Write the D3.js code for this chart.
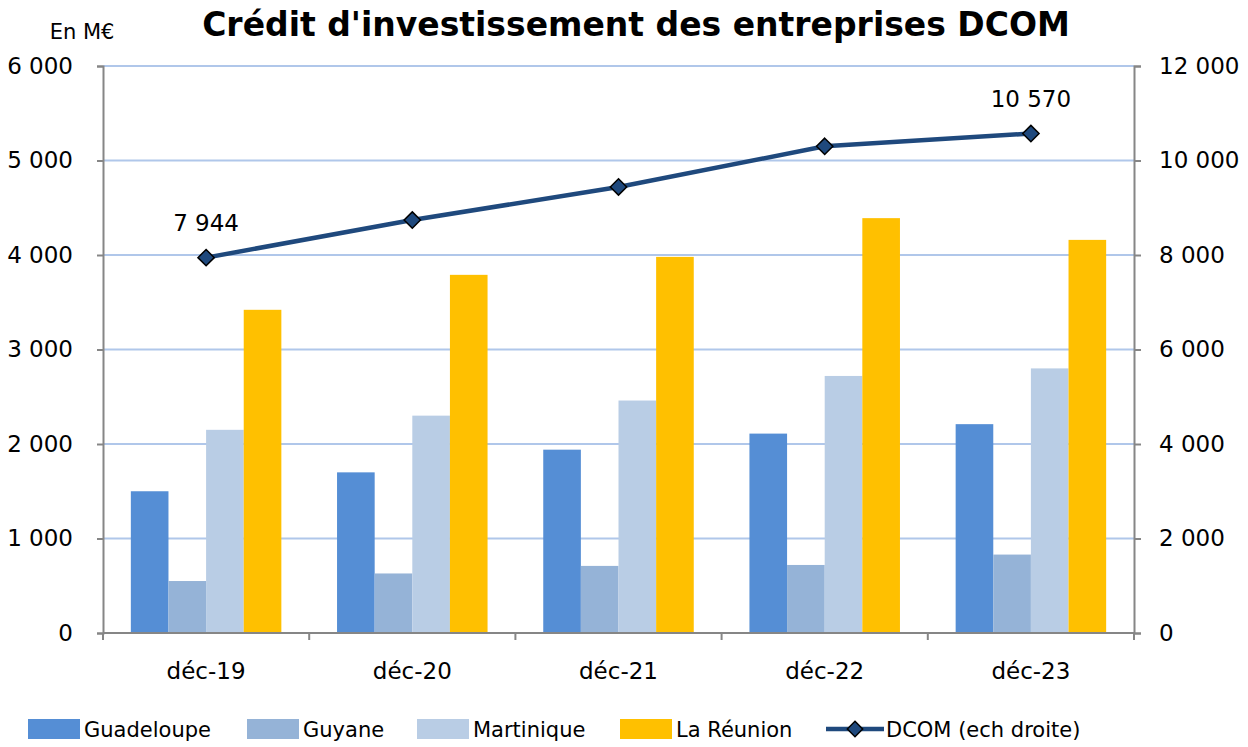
<!DOCTYPE html>
<html>
<head>
<script src="https://cdn.jsdelivr.net/npm/d3@7"></script>
<style>
  body { margin: 0; background: #fff; }
  text { font-family: "DejaVu Sans", Verdana, sans-serif; fill: #000; }
</style>
</head>
<body>
<div id="chart"></div>
<script>
var categories = ["déc-19", "déc-20", "déc-21", "déc-22", "déc-23"];
var series = ["Guadeloupe", "Guyane", "Martinique", "La Réunion"];
var guadeloupe = [1500, 1700, 1940, 2110, 2210];
var guyane = [550, 630, 710, 720, 830];
var martinique = [2150, 2300, 2460, 2720, 2800];
var reunion = [3420, 3790, 3980, 4390, 4160];
var dcom = [7944, 8740, 9440, 10300, 10570];
var leftTicks = [0, 1000, 2000, 3000, 4000, 5000, 6000];
var rightTicks = [0, 2000, 4000, 6000, 8000, 10000, 12000];
var colors = ["#558ed5", "#95b3d7", "#b9cde5", "#ffc000"];
var lineColor = "#1f497d";

var values = [guadeloupe, guyane, martinique, reunion];
var W = 1248, H = 747;
var pLeft = 103, pRight = 1134, pTop = 66, pBottom = 633;

var svg = d3.select("#chart").append("svg")
    .attr("width", W).attr("height", H);

var x = d3.scaleBand().domain(categories).range([pLeft, pRight]);
var xs = d3.scaleBand().domain(series).range([0, x.bandwidth()]).paddingOuter(0.74);
var yL = d3.scaleLinear().domain([0, 6000]).range([pBottom, pTop]);
var yR = d3.scaleLinear().domain([0, 12000]).range([pBottom, pTop]);
var fmt = function(v) { return d3.format(",")(v).replace(/,/g, " "); };

// gridlines
svg.append("g").selectAll("line")
    .data(leftTicks.slice(1))
    .enter().append("line")
    .attr("x1", pLeft).attr("x2", pRight)
    .attr("y1", function(d) { return yL(d); })
    .attr("y2", function(d) { return yL(d); })
    .attr("stroke", "#b0c7ea")
    .attr("stroke-width", 2);

// bars
series.forEach(function(s, i) {
    svg.append("g").selectAll("rect")
        .data(values[i])
        .enter().append("rect")
        .attr("x", function(d, j) { return x(categories[j]) + xs(s); })
        .attr("width", xs.bandwidth())
        .attr("y", function(d) { return yL(d); })
        .attr("height", function(d) { return pBottom - yL(d); })
        .attr("fill", colors[i]);
});

// axes
var axisColor = "#868686";
var gl = svg.append("g").attr("transform", "translate(" + pLeft + ",0)")
    .call(d3.axisLeft(yL).tickValues(leftTicks).tickFormat(fmt).tickSize(6).tickPadding(24));
var gr = svg.append("g").attr("transform", "translate(" + pRight + ",0)")
    .call(d3.axisRight(yR).tickValues(rightTicks).tickFormat(fmt).tickSize(7).tickPadding(18));
[gl, gr].forEach(function(g) {
    g.select(".domain").attr("stroke", axisColor).attr("stroke-width", 2);
    g.selectAll(".tick line").attr("stroke", axisColor).attr("stroke-width", 2);
    g.selectAll("text").style("font-size", "23px").attr("fill", "#000")
        .style("font-family", "'DejaVu Sans', Verdana, sans-serif");
});

var xb = x.domain().map(function(c) { return x(c); }).concat([pRight]);
svg.append("line").attr("x1", pLeft).attr("x2", pRight)
    .attr("y1", pBottom).attr("y2", pBottom)
    .attr("stroke", axisColor).attr("stroke-width", 2);
svg.append("g").selectAll("line").data(xb).enter().append("line")
    .attr("x1", function(d) { return d; }).attr("x2", function(d) { return d; })
    .attr("y1", pBottom).attr("y2", pBottom + 7)
    .attr("stroke", axisColor).attr("stroke-width", 2);
svg.append("g").selectAll("text").data(categories).enter().append("text")
    .attr("x", function(d) { return x(d) + x.bandwidth() / 2; })
    .attr("y", 679)
    .attr("text-anchor", "middle")
    .style("font-size", "23px")
    .text(function(d) { return d; });

// line DCOM
var cx = function(d, j) { return x(categories[j]) + x.bandwidth() / 2; };
svg.append("path")
    .datum(dcom)
    .attr("d", d3.line().x(cx).y(function(d) { return yR(d); }))
    .attr("fill", "none")
    .attr("stroke", lineColor)
    .attr("stroke-width", 4.5);
svg.append("g").selectAll("path").data(dcom).enter().append("path")
    .attr("d", d3.symbol().type(d3.symbolDiamond2).size(170))
    .attr("transform", function(d, j) { return "translate(" + cx(d, j) + "," + yR(d) + ")"; })
    .attr("fill", lineColor)
    .attr("stroke", "#000")
    .attr("stroke-width", 1.5);

// data labels on first and last point
[0, dcom.length - 1].forEach(function(j) {
    svg.append("text")
        .attr("x", cx(dcom[j], j))
        .attr("y", yR(dcom[j]) - 27)
        .attr("text-anchor", "middle")
        .style("font-size", "23px")
        .text(fmt(dcom[j]));
});

// title
svg.append("text").attr("x", 636).attr("y", 36)
    .attr("text-anchor", "middle")
    .style("font-size", "33px").style("font-weight", "bold")
    .text("Crédit d'investissement des entreprises DCOM");
svg.append("text").attr("x", 82).attr("y", 39)
    .attr("text-anchor", "middle")
    .style("font-size", "21px")
    .text("En M€");

// legend
var legendX = [28, 247, 417, 620];
var lg = svg.append("g");
series.forEach(function(s, i) {
    lg.append("rect").attr("x", legendX[i]).attr("y", 719)
        .attr("width", 52).attr("height", 20).attr("fill", colors[i]);
    lg.append("text").attr("x", legendX[i] + 56).attr("y", 737)
        .style("font-size", "21px").text(s);
});
lg.append("line").attr("x1", 826).attr("x2", 884).attr("y1", 729).attr("y2", 729)
    .attr("stroke", lineColor).attr("stroke-width", 4.5);
lg.append("path").attr("d", d3.symbol().type(d3.symbolDiamond2).size(150))
    .attr("transform", "translate(855,729)")
    .attr("fill", lineColor).attr("stroke", "#000").attr("stroke-width", 1.5);
lg.append("text").attr("x", 886).attr("y", 737)
    .style("font-size", "21px").text("DCOM (ech droite)");
</script>
</body>
</html>
